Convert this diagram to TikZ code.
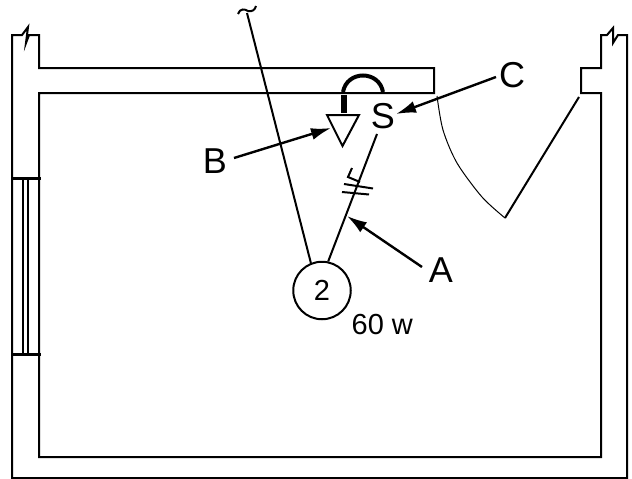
\documentclass[tikz,border=0pt]{standalone}
\usepackage{fontspec}
\setmainfont{Liberation Sans}
\usetikzlibrary{arrows.meta}
\tikzset{
  wall/.style={draw=black,line width=2pt},
  wire/.style={draw=black,line width=2pt},
  pointer/.style={draw=black,line width=2.4pt,-{Latex[length=20pt,width=12pt]}},
  biglabel/.style={inner sep=0pt,font=\fontsize{36}{36}\selectfont},
  smalllabel/.style={inner sep=0pt,font=\fontsize{29}{29}\selectfont}
}
\begin{document}
\begin{tikzpicture}[x=1pt,y=-1pt]
  \useasboundingbox (0,0) rectangle (632,479);
  % walls
  \draw[wall] (12,35) -- (22,35) -- (28,27) -- (26,43) -- (29,35) -- (39,35) -- (39,68) -- (434,68) -- (434,93) -- (39,93) -- (39,457) -- (601,457) -- (601,93) -- (581,93) -- (581,68) -- (601,68) -- (601,35) -- (607,35) -- (613,28) -- (613,43) -- (618,35) -- (627,35) -- (627,478) -- (12,478) -- cycle;
  % window
  \draw[line width=2.6pt] (12,178.5) -- (41,178.5);
  \draw[line width=2.6pt] (12,354.5) -- (41,354.5);
  \draw[line width=2.4pt] (23,178) -- (23,354);
  \draw[line width=2.4pt] (28,178) -- (28,354);
  % door
  \draw[wire] (579,97) -- (505,218);
  \draw[line width=1pt] plot[smooth] coordinates {(437,96) (443,130) (457,163) (482,197) (505,218)};
  % lamp and switch
  \node[draw,circle,line width=2pt,minimum size=57.5pt,inner sep=0pt,smalllabel] (lamp) at (322,290.5) {2};
  \node[biglabel] (switch) at (383,116.5) {S};
  \node[smalllabel,anchor=base west] (watt) at (351.5,334) {60 w};
  \coordinate (feed) at (247,13);
  \coordinate (wireend) at (377,134);
  \draw[wire] (feed) -- (lamp.112);
  \draw[wire] (wireend) -- (lamp.78);
  \draw[wire] (238,14) .. controls (240,8) and (245,9) .. (248,11) .. controls (252,12) and (255,10) .. (256,6);
  % outlet
  \draw[line width=6pt] (344,95) -- (344,113);
  \draw[wire] (327,115) -- (359,115) -- (342.5,146) -- cycle;
  \draw[line width=4pt] (343,92) .. controls (347,70) and (379,70) .. (383,92);
  % ticks
  \draw[wire] (352,168) -- (348,177) -- (360,182);
  \draw[wire] (344,184) -- (373,188.5);
  \draw[wire] (342,192) -- (369,194.5);
  % labels
  \node[biglabel] (labelA) at (441,270) {A};
  \node[biglabel] (labelB) at (215,161) {B};
  \node[biglabel] (labelC) at (512,75) {C};
  \draw[pointer] (labelA) +(-19,-3) -- (347,216);
  \draw[pointer] (labelB) +(19,-3) -- (331,128);
  \draw[pointer] (labelC) +(-16,2) -- (396,114);
\end{tikzpicture}
\end{document}
